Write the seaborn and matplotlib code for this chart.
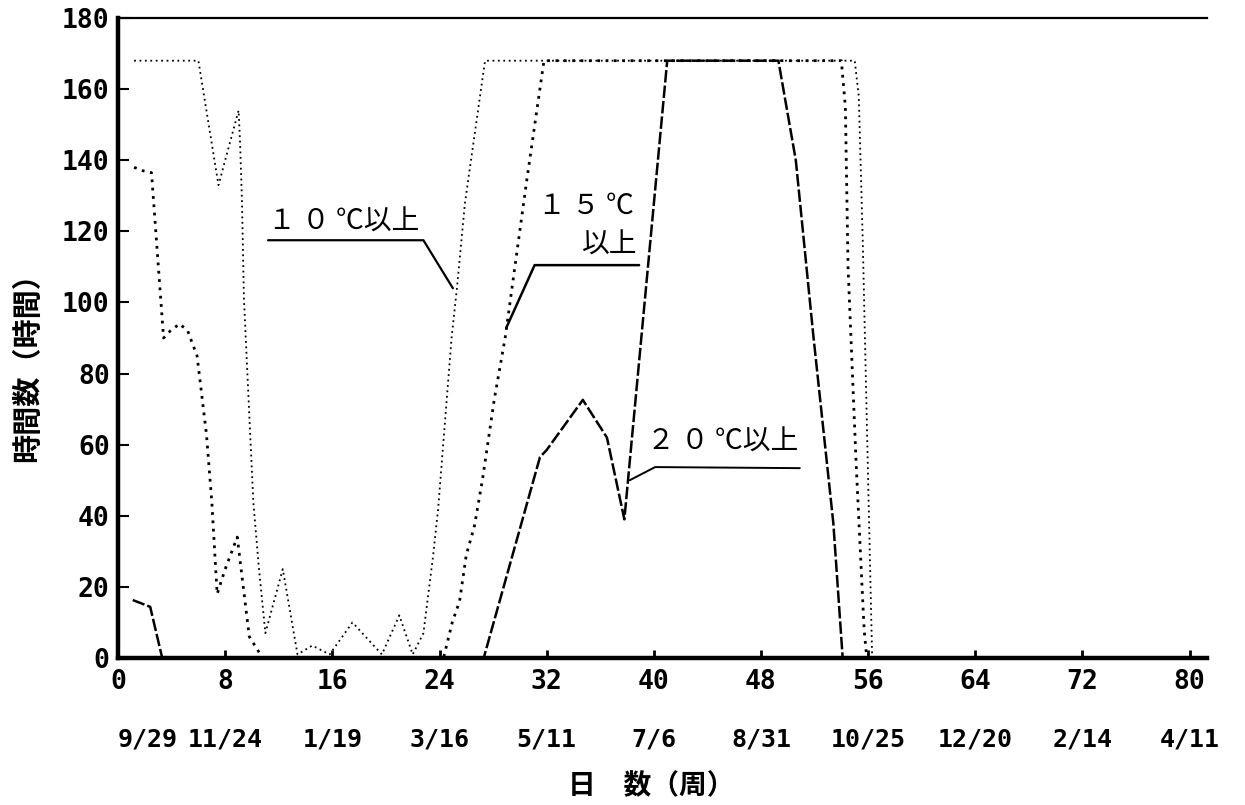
import matplotlib
matplotlib.use("Agg")
import matplotlib.pyplot as plt
import seaborn as sns

# Hours per week at or above each temperature threshold (a full week = 168 h)
weeks_10 = [1.2, 6.0, 7.5, 9.0, 9.1, 9.25, 9.4, 10.1, 10.5, 11.0, 12.3, 13.4, 14.5,
            15.8, 17.5, 19.7, 21.0, 22.0, 22.8, 23.5, 23.9, 24.9, 25.3, 25.9, 27.4,
            55.0, 55.3, 55.6, 56.0, 56.3, 80.0]
hours_10 = [168, 168, 133, 154, 146, 129, 101, 44, 26, 7, 25, 1, 3.5,
            1, 10, 1, 12, 1, 7, 28, 42, 90, 104, 128, 168,
            168, 158, 117, 50, 0, 0]

weeks_15 = [1.2, 1.9, 2.5, 3.4, 3.9, 4.6, 5.2, 5.9, 6.6, 7.0, 7.4, 8.0, 8.9, 9.8,
            10.3, 10.8, 24.3, 24.95, 25.5, 26.0, 26.6, 27.2, 28.1, 28.9, 30.5, 31.8,
            54.0, 54.3, 54.5, 55.1, 55.7, 55.9, 80.0]
hours_15 = [138, 137, 136.5, 90, 92, 94, 92, 85, 63, 44, 18, 25, 34, 6,
            3, 0, 0, 10, 16, 29, 37, 50, 73, 90, 134, 168,
            168, 155, 110, 55, 8, 0, 0]

weeks_20 = [1.1, 2.4, 3.3, 27.3, 31.5, 32.0, 34.7, 36.5, 37.8, 41.0, 49.3, 50.6,
            51.9, 53.4, 54.1, 80.0]
hours_20 = [16.3, 14.4, 0, 0, 56.5, 58.5, 72.6, 62, 39, 168, 168, 140,
            91, 38, 0, 0]

week_ticks = [0, 8, 16, 24, 32, 40, 48, 56, 64, 72, 80]
date_labels = ["9/29", "11/24", "1/19", "3/16", "5/11", "7/6", "8/31",
               "10/25", "12/20", "2/14", "4/11"]
hour_ticks = [0, 20, 40, 60, 80, 100, 120, 140, 160, 180]

sns.set_theme(style="white")
plt.rcParams["font.family"] = ["Noto Sans CJK JP", "DejaVu Sans"]
plt.rcParams["text.color"] = "black"

fig = plt.figure(figsize=(12.45, 8.05), dpi=100)
ax = fig.add_axes([0.0948, 0.1826, 0.8747, 0.795])

sns.lineplot(x=weeks_10, y=hours_10, ax=ax, color="black", lw=1.3,
             linestyle=(0, (1, 2.0)), sort=False, estimator=None)
sns.lineplot(x=weeks_15, y=hours_15, ax=ax, color="black", lw=2.0,
             linestyle=(0, (1, 2.0)), sort=False, estimator=None)
sns.lineplot(x=weeks_20, y=hours_20, ax=ax, color="black", lw=1.8,
             linestyle=(0, (5, 1.2)), sort=False, estimator=None)

ax.set_xlim(0, 81.3)
ax.set_ylim(0, 180)

for side in ("left", "bottom"):
    ax.spines[side].set_linewidth(3.2)
    ax.spines[side].set_color("black")
ax.spines["top"].set_linewidth(1.6)
ax.spines["top"].set_color("black")
ax.spines["right"].set_visible(False)

tick_font = dict(family="DejaVu Sans Mono", weight="bold", size=19, color="black")
date_font = dict(family="DejaVu Sans Mono", weight="bold", size=18, color="black")
ax.set_xticks(week_ticks)
ax.set_xticklabels([str(w) for w in week_ticks], fontdict=tick_font)
ax.set_yticks(hour_ticks)
ax.set_yticklabels([str(h) for h in hour_ticks], fontdict=tick_font)
ax.tick_params(axis="x", direction="in", length=6, width=2, pad=8, colors="black")
ax.tick_params(axis="y", direction="in", length=8, width=1.5, pad=6, colors="black")
ax.tick_params(left=True, bottom=True)

# calendar dates beneath the week numbers
xform = ax.get_xaxis_transform()
for i, (w, d) in enumerate(zip(week_ticks, date_labels)):
    ax.text(w, -0.128, d, transform=xform, ha="left" if i == 0 else "center",
            va="center", **date_font)

ax.text(0.49, -0.2, "日　数（周）", transform=ax.transAxes, ha="center",
        va="center", fontsize=20, fontweight="bold", color="black")
fig.text(0.022, 1 - 360 / 805, "時間数（時間）", rotation=90, ha="center",
         va="center", fontsize=21, fontweight="bold", color="black")

# series labels with leader lines
label_kw = dict(fontsize=20, color="black")
ax.text(11.2, 120.5, "１ ０ ℃以上", ha="left", va="baseline", **label_kw)
ax.plot([11.2, 22.8, 25.0], [117.5, 117.5, 104], color="black", lw=1.6)

ax.text(38.5, 125, "１ ５ ℃", ha="right", va="baseline", **label_kw)
ax.text(38.8, 114, "以上", ha="right", va="baseline", **label_kw)
ax.plot([29.0, 31.1, 38.9], [93, 110.5, 110.5], color="black", lw=1.8)

ax.text(39.5, 58.5, "２ ０ ℃以上", ha="left", va="baseline", **label_kw)
ax.plot([38.2, 40.1, 50.9], [50, 53.7, 53.4], color="black", lw=1.4)

ax.set_xlabel("")
ax.set_ylabel("")
fig.savefig("out.png", dpi=100, facecolor="white")
